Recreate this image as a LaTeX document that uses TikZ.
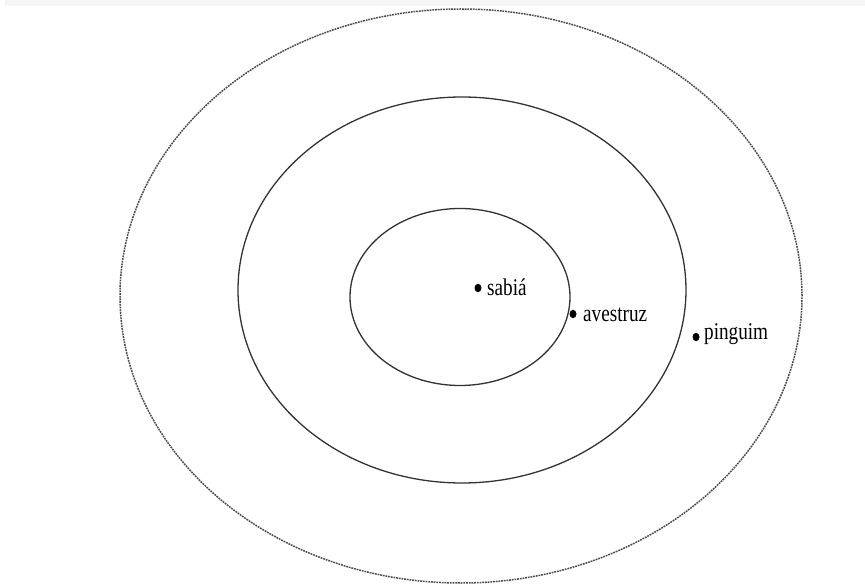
\documentclass[tikz,border=0pt]{standalone}
\usepackage{fontspec}
\setmainfont{Liberation Serif}
\usetikzlibrary{shapes.geometric}
\begin{document}
\begin{tikzpicture}[x=1pt,y=-1pt,
  ring/.style={draw=black!80, ellipse, line width=1.3pt, inner sep=0pt},
  outerring/.style={draw=black!70, ellipse, line width=1.5pt, inner sep=0pt, dash pattern=on 1.8pt off 0.9pt},
  dot/.style={fill=black, ellipse, inner sep=0pt, minimum width=7pt, minimum height=8.5pt},
  lbl/.style={anchor=base west, inner sep=0pt, xscale=0.8, font=\fontsize{24}{28}\selectfont}]
\useasboundingbox (0,0) rectangle (865,585);
\fill[black!4] (5,0) rectangle (865,6);
\node[outerring, minimum width=682pt, minimum height=574pt] (outer) at (461,296) {};
\node[ring, minimum width=448pt, minimum height=386pt] (middle) at (462,290) {};
\node[ring, minimum width=220pt, minimum height=177pt] (inner) at (460,297) {};
\node[dot] (d1) at (478,288) {};
\node[dot] (d2) at (573,314) {};
\node[dot] (d3) at (696,337) {};
\node[lbl] (l1) at (487,296) {sabiá};
\node[lbl] (l2) at (583,322) {avestruz};
\node[lbl] (l3) at (704,340) {pinguim};
\end{tikzpicture}
\end{document}
